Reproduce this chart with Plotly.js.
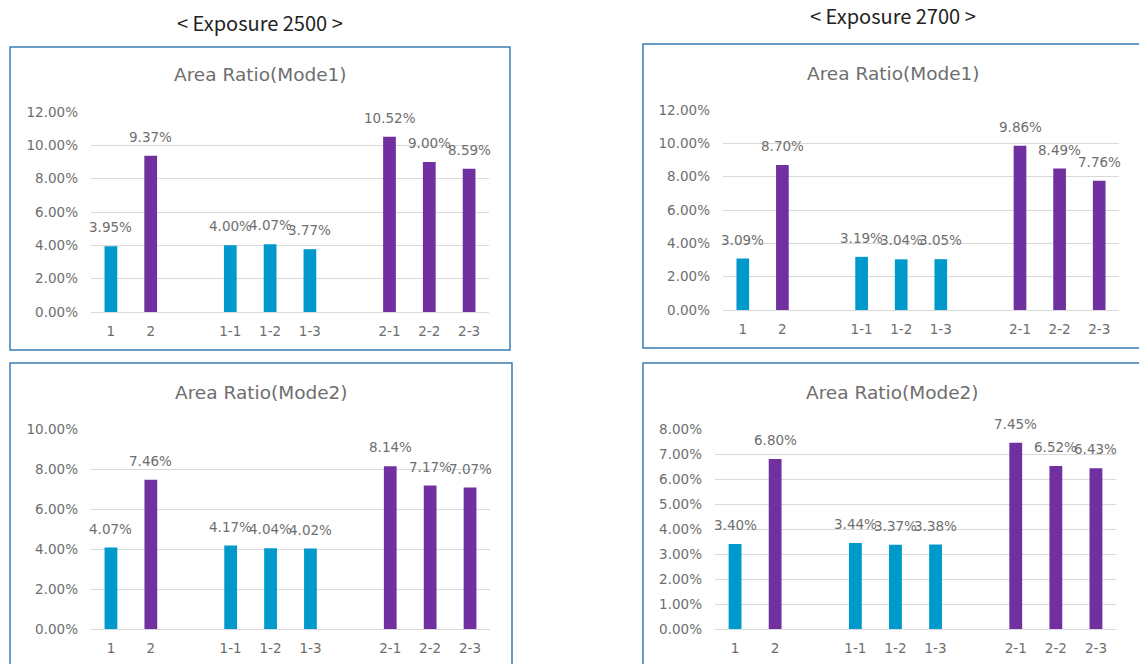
<!DOCTYPE html>
<html>
<head>
<meta charset="utf-8">
<script src="https://cdn.plot.ly/plotly-3.0.1.min.js"></script>
<style>html,body{margin:0;padding:0;background:#fff;}#chart{width:1139px;height:664px;}</style>
</head>
<body>
<div id="chart"></div>
<script>
// ---- data ----
const categories = ['1', '2', ' ', '1-1', '1-2', '1-3', '  ', '2-1', '2-2', '2-3'];
const groupA = ['1', '1-1', '1-2', '1-3'];
const groupB = ['2', '2-1', '2-2', '2-3'];

const exp2500Mode1A = [0.0395, 0.0400, 0.0407, 0.0377];
const exp2500Mode1B = [0.0937, 0.1052, 0.0900, 0.0859];
const exp2700Mode1A = [0.0309, 0.0319, 0.0304, 0.0305];
const exp2700Mode1B = [0.0870, 0.0986, 0.0849, 0.0776];
const exp2500Mode2A = [0.0407, 0.0417, 0.0404, 0.0402];
const exp2500Mode2B = [0.0746, 0.0814, 0.0717, 0.0707];
const exp2700Mode2A = [0.0340, 0.0344, 0.0337, 0.0338];
const exp2700Mode2B = [0.0680, 0.0745, 0.0652, 0.0643];

const headers = ['< Exposure 2500 >', '< Exposure 2700 >'];
const chartTitles = ['Area Ratio(Mode1)', 'Area Ratio(Mode1)', 'Area Ratio(Mode2)', 'Area Ratio(Mode2)'];

// ---- layout helpers ----
const W = 1139, H = 664;
const px = x => x / W;
const py = y => 1 - y / H;

const BLUE = '#0099CC', PURPLE = '#7030A0', GRAY = '#6E6E6E', GRID = '#D9D9D9', BORDER = '#3A7DB3';
const chartFont = '"DejaVu Sans", sans-serif';

const panels = [
  {A: exp2500Mode1A, B: exp2500Mode1B, x: [91, 489], y: [312, 112], range: [0, 0.12], dtick: 0.02,
   title: chartTitles[0], tx: 260, ty: 75, box: [10, 47, 510, 350]},
  {A: exp2700Mode1A, B: exp2700Mode1B, x: [723, 1119], y: [310, 110], range: [0, 0.12], dtick: 0.02,
   title: chartTitles[1], tx: 893, ty: 73, box: [643, 44, 1150, 348]},
  {A: exp2500Mode2A, B: exp2500Mode2B, x: [91, 490], y: [629, 429], range: [0, 0.10], dtick: 0.02,
   title: chartTitles[2], tx: 261, ty: 392, box: [10, 363, 512, 680]},
  {A: exp2700Mode2A, B: exp2700Mode2B, x: [715, 1116], y: [629, 429], range: [0, 0.08], dtick: 0.01,
   title: chartTitles[3], tx: 892, ty: 392, box: [643, 363, 1150, 680]}
];

const traces = [];
const layout = {
  width: W, height: H,
  margin: {l: 0, r: 0, t: 0, b: 0},
  paper_bgcolor: '#ffffff', plot_bgcolor: 'rgba(0,0,0,0)',
  showlegend: false, barmode: 'overlay',
  annotations: [], shapes: []
};

const fmt = v => (v * 100).toFixed(2) + '%';

panels.forEach((p, i) => {
  const n = i === 0 ? '' : String(i + 1);
  const xa = 'x' + n, ya = 'y' + n;
  [[groupA, p.A, BLUE], [groupB, p.B, PURPLE]].forEach(([cats, vals, col]) => {
    traces.push({
      type: 'bar', x: cats, y: vals, xaxis: xa, yaxis: ya,
      width: 0.32, marker: {color: col, line: {width: 0}},
      hoverinfo: 'x+y'
    });
    cats.forEach((c, k) => {
      layout.annotations.push({
        xref: xa, yref: ya, x: categories.indexOf(c), y: vals[k], text: fmt(vals[k]),
        showarrow: false, xanchor: 'center', yanchor: 'bottom', yshift: 9,
        font: {family: chartFont, size: 13.5, color: GRAY}
      });
    });
  });
  layout['xaxis' + n] = {
    type: 'category', categoryorder: 'array', categoryarray: categories,
    range: [-0.5, 9.5], domain: [px(p.x[0]), px(p.x[1])], anchor: ya,
    showgrid: false, zeroline: false, showline: false, ticks: '',
    ticklabelstandoff: 9,
    tickfont: {family: chartFont, size: 13.5, color: GRAY}, fixedrange: true
  };
  layout['yaxis' + n] = {
    range: p.range, dtick: p.dtick, tick0: 0, tickformat: '.2%',
    domain: [py(p.y[0]), py(p.y[1])], anchor: xa,
    showgrid: true, gridcolor: GRID, gridwidth: 1,
    zeroline: true, zerolinecolor: GRID, zerolinewidth: 1, showline: false, ticks: '',
    ticklabelstandoff: 12,
    tickfont: {family: chartFont, size: 13.5, color: GRAY}, fixedrange: true
  };
  layout.annotations.push({
    xref: 'paper', yref: 'paper', x: px(p.tx), y: py(p.ty), text: p.title,
    showarrow: false, xanchor: 'center', yanchor: 'middle',
    font: {family: chartFont, size: 18.5, color: GRAY}
  });
  layout.shapes.push({
    type: 'rect', xref: 'paper', yref: 'paper',
    x0: px(p.box[0]), x1: px(p.box[2]), y0: py(p.box[3]), y1: py(p.box[1]),
    line: {color: BORDER, width: 1.5}, fillcolor: 'rgba(0,0,0,0)', layer: 'below'
  });
});

layout.annotations.push({
  xref: 'paper', yref: 'paper', x: px(260), y: py(23), text: headers[0],
  showarrow: false, xanchor: 'center', yanchor: 'middle',
  font: {family: '"Noto Sans CJK KR", "Noto Sans", sans-serif', size: 20, color: '#222222'}
});
layout.annotations.push({
  xref: 'paper', yref: 'paper', x: px(893), y: py(16), text: headers[1],
  showarrow: false, xanchor: 'center', yanchor: 'middle',
  font: {family: '"Noto Sans CJK KR", "Noto Sans", sans-serif', size: 20, color: '#222222'}
});

Plotly.newPlot('chart', traces, layout, {displayModeBar: false, staticPlot: true});
</script>
</body>
</html>
